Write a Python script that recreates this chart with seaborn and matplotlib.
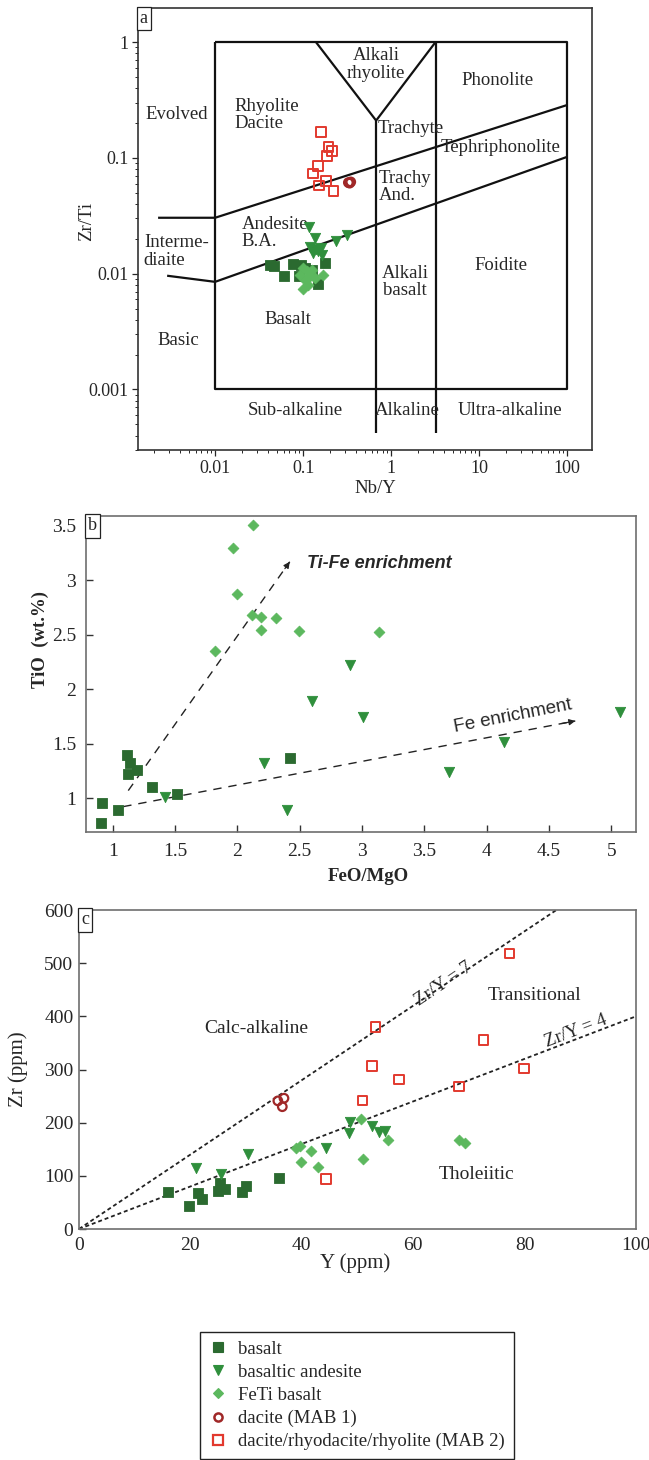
"""Three-panel geochemical discrimination plot (Zr/Ti-Nb/Y, TiO2-FeO/MgO, Zr-Y)."""
import matplotlib
matplotlib.use("Agg")
import matplotlib.pyplot as plt
from matplotlib.lines import Line2D
from matplotlib.ticker import FixedLocator, LogLocator, NullFormatter
import numpy as np
import pandas as pd
import seaborn as sns

# ---------------------------------------------------------------- data
ROCKS = ["basalt", "basaltic andesite", "FeTi basalt",
         "dacite (MAB 1)", "dacite/rhyodacite/rhyolite (MAB 2)"]

# panel a : Nb/Y vs Zr/Ti
A_BAS_X = [0.042, 0.047, 0.061, 0.076, 0.094, 0.089, 0.178, 0.147, 0.126, 0.105]
A_BAS_Y = [0.0118, 0.0117, 0.0096, 0.0121, 0.0118, 0.0095, 0.0124, 0.0082, 0.0108, 0.0113]
A_BA_X = [0.117, 0.137, 0.121, 0.141, 0.159, 0.147, 0.129, 0.164, 0.237, 0.314]
A_BA_Y = [0.0253, 0.0203, 0.0170, 0.0164, 0.0167, 0.0156, 0.0151, 0.0146, 0.0192, 0.0217]
A_FETI_X = [0.101, 0.110, 0.0925, 0.120, 0.105, 0.101, 0.170, 0.126, 0.137, 0.114]
A_FETI_Y = [0.0112, 0.0105, 0.0098, 0.0095, 0.0089, 0.0074, 0.0098, 0.0108, 0.0092, 0.0080]
A_DAC_X = [0.327, 0.348, 0.338]
A_DAC_Y = [0.0612, 0.0620, 0.0605]
A_MAB2_X = [0.161, 0.194, 0.212, 0.186, 0.147, 0.130, 0.183, 0.152, 0.221]
A_MAB2_Y = [0.167, 0.124, 0.115, 0.104, 0.0853, 0.0732, 0.0633, 0.0577, 0.0516]

# panel b : FeO/MgO vs TiO2
B_BAS_X = [1.112, 1.139, 1.125, 1.193, 1.318, 1.514, 2.423, 0.917, 1.045, 0.907]
B_BAS_Y = [1.397, 1.321, 1.223, 1.260, 1.101, 1.039, 1.370, 0.960, 0.893, 0.775]
B_BA_X = [2.905, 2.602, 3.011, 5.070, 4.135, 3.699, 2.214, 1.422, 2.401]
B_BA_Y = [2.223, 1.893, 1.743, 1.795, 1.519, 1.244, 1.321, 1.015, 0.893]
B_FETI_X = [2.128, 1.963, 2.000, 2.116, 2.188, 2.311, 2.193, 2.498, 1.821, 3.137]
B_FETI_Y = [3.507, 3.294, 2.872, 2.680, 2.666, 2.651, 2.544, 2.538, 2.354, 2.526]

# panel c : Y vs Zr (ppm)
C_BAS_X = [15.9, 19.8, 21.4, 22.0, 24.9, 25.3, 26.3, 29.3, 30.0, 35.9]
C_BAS_Y = [69, 44, 67, 56, 72, 86, 76, 70, 80, 96]
C_BA_X = [21.0, 25.5, 30.3, 44.3, 48.5, 48.6, 52.6, 53.8, 55.0]
C_BA_Y = [114, 103, 142, 152, 181, 202, 194, 182, 185]
C_FETI_X = [39.0, 39.6, 39.8, 41.6, 42.9, 50.6, 51.0, 55.4, 68.2, 69.3]
C_FETI_Y = [152, 156, 126, 147, 117, 206, 132, 168, 167, 162]
C_DAC_X = [35.7, 36.8, 36.5]
C_DAC_Y = [241, 246, 230]
C_MAB2_X = [77.3, 53.2, 52.6, 57.4, 50.9, 72.6, 68.2, 79.9, 44.4]
C_MAB2_Y = [518, 380, 306, 281, 242, 355, 268, 302, 94]
ZRY_RATIOS = [7, 4]

# Winchester & Floyd (Pearce 1996) field boundaries for panel a
BOX_X = [0.01, 100, 100, 0.01, 0.01]
BOX_Y = [1, 1, 0.001, 0.001, 1]
UPPER_X = [0.00225, 0.01, 100]
UPPER_Y = [0.0304, 0.0304, 0.286]
LOWER_X = [0.00285, 0.01, 100]
LOWER_Y = [0.0096, 0.0085, 0.102]
VEE_X = [0.14, 0.676, 3.2]
VEE_Y = [1, 0.21, 1]
ALK_X = [0.676, 0.676]
ALK_Y = [0.21, 0.00042]
ULTRA_X = [3.2, 3.2]
ULTRA_Y = [1, 0.00042]

STYLES = {
    "basalt": dict(marker="s", color="#2b6a30", size=48, open=False, lw=0.6),
    "basaltic andesite": dict(marker="v", color="#2f8f3c", size=55, open=False, lw=0.6),
    "FeTi basalt": dict(marker="D", color="#5cb85e", size=30, open=False, lw=0.6),
    "dacite (MAB 1)": dict(marker="o", color="#a02828", size=38, open=True, lw=1.6),
    "dacite/rhyodacite/rhyolite (MAB 2)": dict(marker="s", color="#e2392e", size=48, open=True, lw=1.4),
}


def frame(pairs):
    rows = []
    for rock, (xs, ys) in zip(ROCKS, pairs):
        rows += [dict(rock=rock, x=x, y=y) for x, y in zip(xs, ys)]
    return pd.DataFrame(rows)


df_a = frame([(A_BAS_X, A_BAS_Y), (A_BA_X, A_BA_Y), (A_FETI_X, A_FETI_Y),
              (A_DAC_X, A_DAC_Y), (A_MAB2_X, A_MAB2_Y)])
df_b = frame([(B_BAS_X, B_BAS_Y), (B_BA_X, B_BA_Y), (B_FETI_X, B_FETI_Y), ([], []), ([], [])])
df_c = frame([(C_BAS_X, C_BAS_Y), (C_BA_X, C_BA_Y), (C_FETI_X, C_FETI_Y),
              (C_DAC_X, C_DAC_Y), (C_MAB2_X, C_MAB2_Y)])

# ---------------------------------------------------------------- style
sns.set_style("ticks")
plt.rcParams["font.family"] = ["Liberation Serif", "DejaVu Serif"]
plt.rcParams["axes.linewidth"] = 1.2

W, H = 649, 1460
fig = plt.figure(figsize=(W / 100, H / 100), dpi=100)


def px_axes(left, top, right, bottom):
    return fig.add_axes([left / W, 1 - bottom / H, (right - left) / W, (bottom - top) / H])


def draw_groups(ax, data):
    for rock, grp in data.groupby("rock", sort=False):
        st = STYLES[rock]
        kw = dict(marker=st["marker"], s=st["size"], linewidth=st["lw"],
                  legend=False, ax=ax, zorder=4)
        if st["open"]:
            kw.update(facecolor="none", edgecolor=st["color"])
        else:
            kw.update(color=st["color"], edgecolor=st["color"])
        sns.scatterplot(data=grp, x="x", y="y", **kw)


def panel_tag(ax, letter):
    ax.text(0.004, 0.996, letter, transform=ax.transAxes, ha="left", va="top",
            fontsize=13, zorder=6,
            bbox=dict(boxstyle="square,pad=0.18", fc="white", ec="#222222", lw=0.9))


# ---------------------------------------------------------------- panel a
ax = px_axes(138, 8, 592, 450)
ax.set_xscale("log")
ax.set_yscale("log")
for xs, ys in [(BOX_X, BOX_Y), (UPPER_X, UPPER_Y), (LOWER_X, LOWER_Y),
               (VEE_X, VEE_Y), (ALK_X, ALK_Y), (ULTRA_X, ULTRA_Y)]:
    ax.plot(xs, ys, color="#111111", lw=1.6, zorder=2, solid_capstyle="butt")
draw_groups(ax, df_a)
ax.set_xlim(0.00133, 192)
ax.set_ylim(0.0003, 1.97)
ax.set_xticks([0.01, 0.1, 1, 10, 100])
ax.set_xticklabels(["0.01", "0.1", "1", "10", "100"])
ax.set_yticks([0.001, 0.01, 0.1, 1])
ax.set_yticklabels(["0.001", "0.01", "0.1", "1"])
for axis in (ax.xaxis, ax.yaxis):
    axis.set_minor_locator(LogLocator(base=10, subs=np.arange(2, 10), numticks=20))
    axis.set_minor_formatter(NullFormatter())
ax.tick_params(which="major", direction="out", length=4, width=0.9, labelsize=13, pad=3)
ax.tick_params(which="minor", direction="out", length=2, width=0.7)
for sp in ax.spines.values():
    sp.set_color("#333333")
ax.set_xlabel("Nb/Y", fontsize=13.5)
ax.set_ylabel("Zr/Ti", fontsize=13.5)
ax.xaxis.set_label_coords(0.522, -0.068)
ax.yaxis.set_label_coords(-0.095, 0.516)

labels_a = [
    ("Evolved", 0.0037, 0.235, "center"),
    ("Rhyolite\nDacite", 0.0165, 0.235, "left"),
    ("Alkali\nrhyolite", 0.676, 0.64, "center"),
    ("Phonolite", 16, 0.47, "center"),
    ("Trachyte", 0.70, 0.178, "left"),
    ("Tephriphonolite", 17.5, 0.123, "center"),
    ("Trachy\nAnd.", 0.72, 0.056, "left"),
    ("Interme-\ndiaite", 0.00155, 0.0155, "left"),
    ("Andesite\nB.A.", 0.0200, 0.0225, "left"),
    ("Basalt", 0.0675, 0.0040, "center"),
    ("Basic", 0.0038, 0.00264, "center"),
    ("Alkali\nbasalt", 1.45, 0.0085, "center"),
    ("Foidite", 17.5, 0.0117, "center"),
    ("Sub-alkaline", 0.081, 0.00066, "center"),
    ("Alkaline", 1.52, 0.00066, "center"),
    ("Ultra-alkaline", 22.5, 0.00066, "center"),
]
for txt, x, y, ha in labels_a:
    ax.text(x, y, txt, ha=ha, va="center", fontsize=13.5, linespacing=1.05, zorder=3)
panel_tag(ax, "a")

# ---------------------------------------------------------------- panel b
ax = px_axes(86, 516, 636, 832)
draw_groups(ax, df_b)
ax.set_xlim(0.786, 5.197)
ax.set_ylim(0.69, 3.59)
ax.xaxis.set_major_locator(FixedLocator([1, 1.5, 2, 2.5, 3, 3.5, 4, 4.5, 5]))
ax.yaxis.set_major_locator(FixedLocator([1, 1.5, 2, 2.5, 3, 3.5]))
ax.set_xticklabels(["1", "1.5", "2", "2.5", "3", "3.5", "4", "4.5", "5"])
ax.set_yticklabels(["1", "1.5", "2", "2.5", "3", "3.5"])
ax.tick_params(direction="in", length=5, width=1.0, labelsize=14, color="#333333")
ax.tick_params(axis="x", pad=8)
ax.tick_params(axis="y", pad=7)
for sp in ax.spines.values():
    sp.set_color("#6e6e6e")
ax.set_xlabel("FeO/MgO", fontsize=13.5, fontweight="bold")
ax.set_ylabel("TiO  (wt.%)", fontsize=13.5, fontweight="bold")
ax.xaxis.set_label_coords(0.513, -0.115)
ax.yaxis.set_label_coords(-0.068, 0.61)

# trend arrows
for (x0, y0), (x1, y1) in [((1.125, 1.07), (2.42, 3.17)), ((1.085, 0.923), (4.71, 1.709))]:
    ax.plot([x0, x1], [y0, y1], color="#222222", lw=1.0, ls=(0, (6, 5)), zorder=2)
    ax.annotate("", xy=(x1, y1), xytext=(x1 - (x1 - x0) * 0.03, y1 - (y1 - y0) * 0.03),
                arrowprops=dict(arrowstyle="-|>", color="#222222", lw=0.9,
                                mutation_scale=9, shrinkA=0, shrinkB=0))
ax.text(2.56, 3.15, "Ti-Fe enrichment", fontsize=13, fontweight="bold", fontstyle="italic",
        family=["Liberation Sans", "DejaVu Sans"], ha="left", va="center")
ax.text(4.21, 1.75, "Fe enrichment", fontsize=13.5, rotation=11,
        family=["Liberation Sans", "DejaVu Sans"], ha="center", va="center",
        rotation_mode="anchor")
panel_tag(ax, "b")

# ---------------------------------------------------------------- panel c
ax = px_axes(79, 910, 636, 1229)
xline = np.array([0, 100])
for r in ZRY_RATIOS:
    ax.plot(xline, r * xline, color="#222222", lw=1.3, ls=(0, (2.2, 1.6)), zorder=2)
draw_groups(ax, df_c)
ax.set_xlim(0, 100)
ax.set_ylim(0, 600)
ax.set_xticks([0, 20, 40, 60, 80, 100])
ax.set_yticks([0, 100, 200, 300, 400, 500, 600])
ax.tick_params(axis="y", direction="in", length=5, width=1.0, labelsize=14, pad=4,
               color="#333333")
ax.tick_params(axis="x", direction="in", length=0, labelsize=14, pad=6)
for sp in ax.spines.values():
    sp.set_color("#6e6e6e")
ax.set_xlabel("Y (ppm)", fontsize=15)
ax.set_ylabel("Zr (ppm)", fontsize=15)
ax.xaxis.set_label_coords(0.496, -0.075)
ax.yaxis.set_label_coords(-0.092, 0.5)

ax.text(31.8, 377, "Calc-alkaline", fontsize=14, ha="center", va="center")
ax.text(81.7, 439, "Transitional", fontsize=14, ha="center", va="center")
ax.text(71.4, 102, "Tholeiitic", fontsize=14, ha="center", va="center")
ax.text(65.5, 461, "Zr/Y = 7", fontsize=13.5, ha="center", va="center", rotation=34,
        rotation_mode="anchor")
ax.text(89.2, 372, "Zr/Y = 4", fontsize=13.5, ha="center", va="center", rotation=21,
        rotation_mode="anchor")
panel_tag(ax, "c")

# ---------------------------------------------------------------- legend
handles = []
for rock in ROCKS:
    st = STYLES[rock]
    handles.append(Line2D([], [], ls="none", marker=st["marker"],
                          markersize=np.sqrt(st["size"]) * 0.95,
                          markerfacecolor="none" if st["open"] else st["color"],
                          markeredgecolor=st["color"],
                          markeredgewidth=st["lw"] + 0.2))
leg = fig.legend(handles, ROCKS, loc="upper left", bbox_to_anchor=(200 / W, 1 - 1332 / H),
                 frameon=True, fancybox=False, edgecolor="#222222", framealpha=1,
                 fontsize=13.5, handlelength=1.0, handletextpad=0.6, labelspacing=0.32,
                 borderpad=0.45, borderaxespad=0)
leg.get_frame().set_linewidth(1.0)

fig.savefig("out.png", dpi=100, facecolor="white")
